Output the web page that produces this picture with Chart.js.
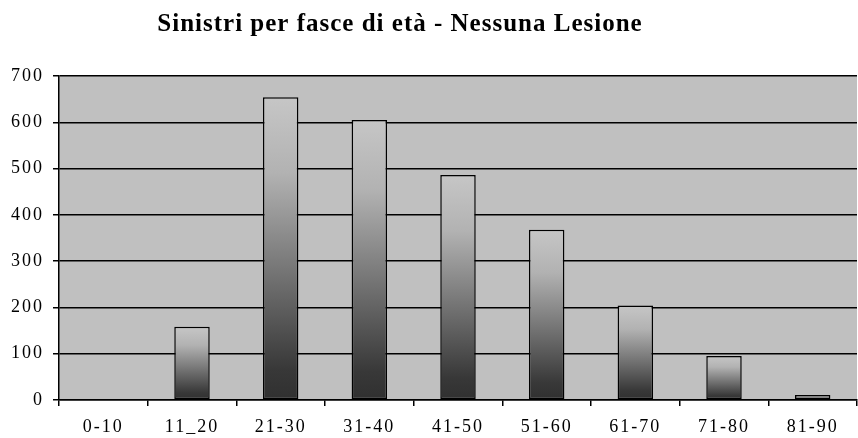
<!DOCTYPE html>
<html>
<head>
<meta charset="utf-8">
<script src="https://cdn.jsdelivr.net/npm/chart.js@4/dist/chart.umd.min.js"></script>
<style>
  html, body { margin: 0; padding: 0; background: #ffffff; }
  #wrap { width: 858px; height: 438px; }
</style>
</head>
<body>
<div id="wrap"><canvas id="c" width="858" height="438"></canvas></div>
<script>
// Age bands and number of claims with no injuries
const categories = ['0-10', '11_20', '21-30', '31-40', '41-50', '51-60', '61-70', '71-80', '81-90'];
const claims = [0, 158, 654, 605, 486, 368, 204, 95, 11];
const yTicks = [0, 100, 200, 300, 400, 500, 600, 700];
const titleText = 'Sinistri per fasce di età - Nessuna Lesione';

const FONT = "'Liberation Serif', 'Times New Roman', serif";

// Grey plot background, letter spacing for the serif labels, and the title
const decor = {
  id: 'decor',
  beforeDraw(chart) {
    const { ctx, chartArea: a } = chart;
    ctx.save();
    ctx.fillStyle = '#c0c0c0';
    ctx.fillRect(a.left, a.top, a.right - a.left, a.bottom - a.top);
    ctx.restore();
    ctx.letterSpacing = '2px';
  },
  afterDraw(chart) {
    const ctx = chart.ctx;
    ctx.save();
    ctx.letterSpacing = '1px';
    ctx.font = "bold 25px " + FONT;
    ctx.fillStyle = '#000000';
    ctx.textAlign = 'center';
    ctx.textBaseline = 'alphabetic';
    ctx.fillText(titleText, 400, 31);
    ctx.restore();
  }
};

// Vertical gradient per bar: light at its top, dark at its base
function barFill(context) {
  const chart = context.chart;
  const y = chart.scales.y;
  if (!y || context.parsed === undefined) return '#808080';
  const top = y.getPixelForValue(context.parsed.y);
  const base = y.getPixelForValue(0);
  if (!isFinite(top) || !isFinite(base) || base - top < 1) return '#c0c0c0';
  const g = chart.ctx.createLinearGradient(0, top, 0, base);
  g.addColorStop(0, '#c6c6c6');
  g.addColorStop(0.25, '#b2b2b2');
  g.addColorStop(0.9, '#383838');
  g.addColorStop(1, '#303030');
  return g;
}

new Chart(document.getElementById('c'), {
  type: 'bar',
  data: {
    labels: categories,
    datasets: [{
      data: claims,
      backgroundColor: barFill,
      borderColor: '#000000',
      borderWidth: (ctx) => (ctx.raw ? 1.5 : 0),
      borderSkipped: false,
      categoryPercentage: 1.0,
      barPercentage: 0.4
    }]
  },
  options: {
    responsive: false,
    animation: false,
    devicePixelRatio: 1,
    layout: { padding: { top: 76, right: 1, left: 0, bottom: 0 } },
    plugins: {
      legend: { display: false },
      title: { display: false },
      tooltip: { enabled: false }
    },
    scales: {
      x: {
        offset: true,
        grid: {
          offset: true,
          drawOnChartArea: false,
          drawTicks: true,
          tickLength: 6,
          color: '#000000',
          lineWidth: 1.5
        },
        border: { display: true, color: '#000000', width: 1.5 },
        ticks: {
          color: '#000000',
          font: { family: FONT, size: 18 },
          padding: 10,
          maxRotation: 0,
          autoSkip: false
        },
        afterFit(scale) { scale.height = 38; }
      },
      y: {
        min: 0,
        max: 700,
        afterBuildTicks(scale) { scale.ticks = yTicks.map(v => ({ value: v })); },
        grid: {
          drawTicks: true,
          tickLength: 6,
          color: '#000000',
          lineWidth: 1.5
        },
        border: { display: true, color: '#000000', width: 1.5 },
        ticks: {
          color: '#000000',
          font: { family: FONT, size: 18 },
          padding: 9
        },
        afterFit(scale) { scale.width = 59; }
      }
    }
  },
  plugins: [decor]
});
</script>
</body>
</html>
